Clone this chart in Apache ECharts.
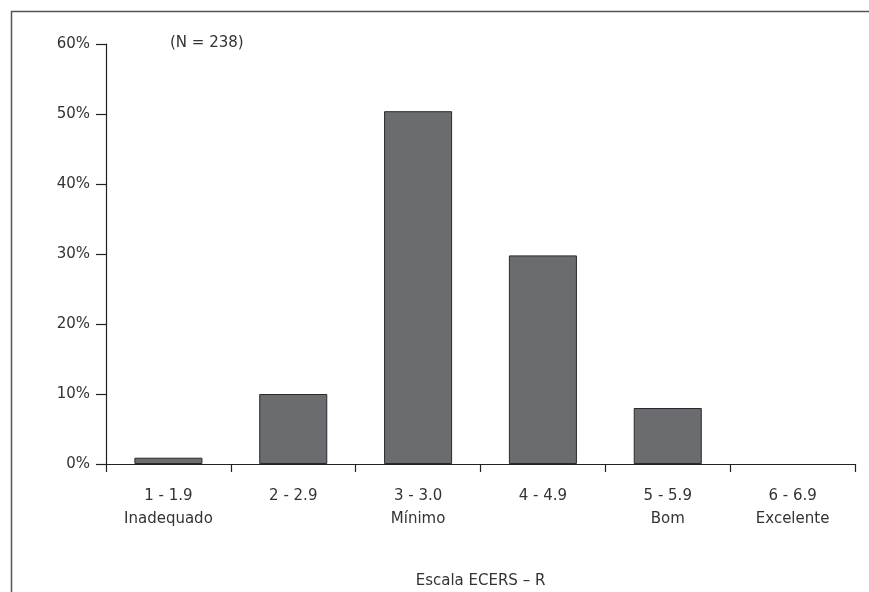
<!DOCTYPE html>
<html><head><meta charset="utf-8">
<script src="https://cdn.jsdelivr.net/npm/echarts@6/dist/echarts.min.js"></script>
<style>html,body{margin:0;padding:0;background:#fff}#c{width:869px;height:592px}</style>
</head><body><div id="c"></div>
<script>
const categories = ['1 - 1.9\nInadequado', '2 - 2.9', '3 - 3.0\nMínimo', '4 - 4.9', '5 - 5.9\nBom', '6 - 6.9\nExcelente'];
const values = [0.9, 10, 50.4, 29.8, 8, 0];
const yTicks = [0, 10, 20, 30, 40, 50, 60];
const note = '(N = 238)';
const axisTitle = 'Escala ECERS – R';

const FONT = '"DejaVu Sans", sans-serif';
const chart = echarts.init(document.getElementById('c'), null, {renderer: 'canvas'});
chart.setOption({
  animation: false,
  backgroundColor: '#fff',
  grid: {left: 106, right: 14, top: 44, bottom: 128, outerBoundsMode: 'none', containLabel: false},
  graphic: [
    {type: 'rect', left: 9, top: 9, shape: {width: 880, height: 600}, style: {fill: 'none', stroke: '#555', lineWidth: 1.5}, z: -1},
    {type: 'text', left: 170, top: 36, style: {text: note, font: '15px ' + FONT, fill: '#333'}}
  ],
  xAxis: {
    type: 'category', data: categories,
    axisLine: {lineStyle: {color: '#222', width: 1.2}},
    axisTick: {show: true, length: 8, lineStyle: {color: '#222', width: 1.2}},
    axisLabel: {color: '#333', fontFamily: FONT, fontSize: 15, lineHeight: 23, margin: 21},
    name: axisTitle, nameLocation: 'middle', nameGap: 110,
    nameTextStyle: {color: '#333', fontFamily: FONT, fontSize: 15}
  },
  yAxis: {
    type: 'value', min: yTicks[0], max: yTicks[yTicks.length - 1], interval: 10,
    axisLine: {show: true, lineStyle: {color: '#222', width: 1.2}},
    axisTick: {show: true, length: 10, lineStyle: {color: '#222', width: 1.2}},
    splitLine: {show: false},
    axisLabel: {color: '#333', fontFamily: FONT, fontSize: 15, margin: 16, formatter: v => v + '%'}
  },
  series: [{
    type: 'bar', barWidth: '54.5%',
    data: values.map(v => v === 0 ? {value: v, itemStyle: {borderWidth: 0}} : v),
    itemStyle: {color: '#6b6c70', borderColor: '#2a2a2a', borderWidth: 1}
  }]
});
</script></body></html>
